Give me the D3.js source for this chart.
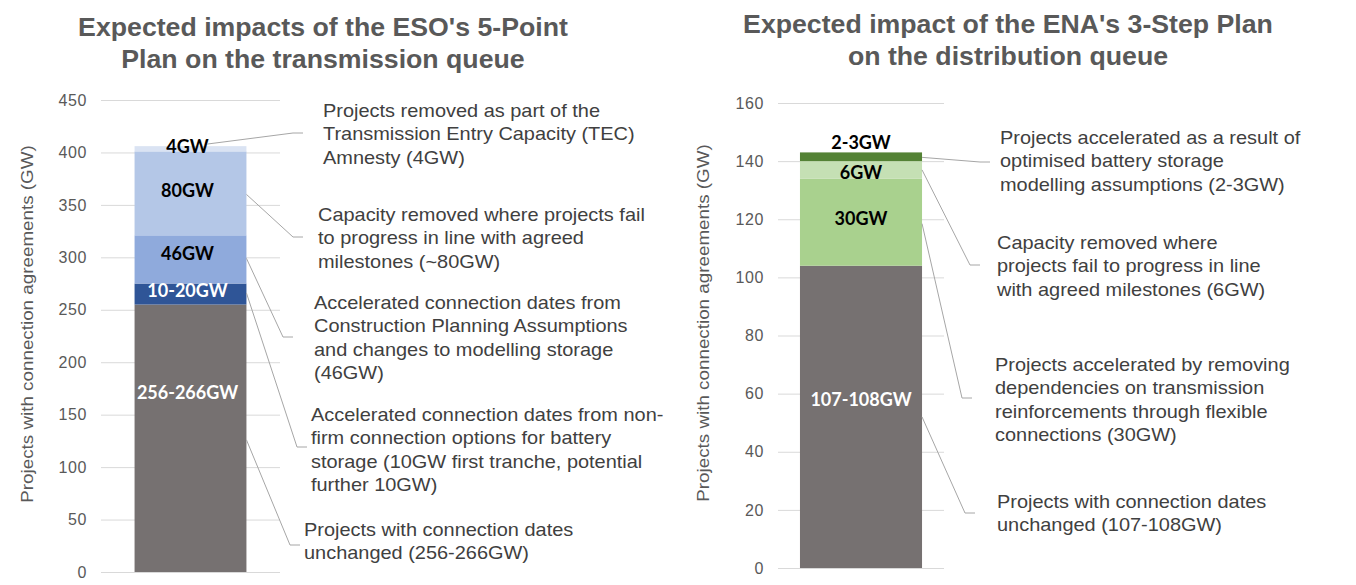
<!DOCTYPE html>
<html>
<head>
<meta charset="utf-8">
<script src="https://cdn.jsdelivr.net/npm/d3@7"></script>
<style>
  body { margin: 0; background: #fff; }
  svg { display: block; }
</style>
</head>
<body>
<div id="chart"></div>
<script>
// Transmission queue (GW), bottom to top
const tSegments = ['Unchanged', 'Non-firm battery', 'CPA & storage', 'Milestones', 'TEC Amnesty'];
const tValues = [255, 20, 46, 80, 5];
const tLabels = ['256-266GW', '10-20GW', '46GW', '80GW', '4GW'];
const tTicks = [0, 50, 100, 150, 200, 250, 300, 350, 400, 450];
const tNotes = [
    ['Projects with connection dates', 'unchanged (256-266GW)'],
    ['Accelerated connection dates from non-', 'firm connection options for battery', 'storage (10GW first tranche, potential', 'further 10GW)'],
    ['Accelerated connection dates from', 'Construction Planning Assumptions', 'and changes to modelling storage', '(46GW)'],
    ['Capacity removed where projects fail', 'to progress in line with agreed', 'milestones (~80GW)'],
    ['Projects removed as part of the', 'Transmission Entry Capacity (TEC)', 'Amnesty (4GW)']
];

// Distribution queue (GW), bottom to top
const dSegments = ['Unchanged', 'Flexible connections', 'Milestones', 'Battery modelling'];
const dValues = [104, 30, 6, 3];
const dLabels = ['107-108GW', '30GW', '6GW', '2-3GW'];
const dTicks = [0, 20, 40, 60, 80, 100, 120, 140, 160];
const dNotes = [
    ['Projects with connection dates', 'unchanged (107-108GW)'],
    ['Projects accelerated by removing', 'dependencies on transmission', 'reinforcements through flexible', 'connections (30GW)'],
    ['Capacity removed where', 'projects fail to progress in line', 'with agreed milestones (6GW)'],
    ['Projects accelerated as a result of', 'optimised battery storage', 'modelling assumptions (2-3GW)']
];

const width = 1356, height = 585;
const svg = d3.select('#chart').append('svg')
    .attr('width', width)
    .attr('height', height);

const lineGap = 23.4;
const stretch = 1.14; // body text in the original is set wide

function drawPanel(p) {
    const y = d3.scaleLinear().domain([0, p.max]).range([p.bottom, p.top]);
    const x = d3.scaleBand().domain(['q']).range([p.gridLeft, p.gridRight]).paddingInner(0).paddingOuter(p.pad);
    const g = svg.append('g');

    // gridlines
    g.append('g')
        .attr('transform', `translate(${p.gridLeft},0)`)
        .call(d3.axisLeft(y).tickValues(p.ticks).tickSize(-(p.gridRight - p.gridLeft)).tickFormat(''))
        .call(a => a.select('.domain').remove())
        .call(a => a.selectAll('line').attr('stroke', '#d9d9d9').attr('stroke-width', 1));

    // tick labels
    g.append('g')
        .attr('transform', `translate(${p.labelRight},0)`)
        .call(d3.axisLeft(y).tickValues(p.ticks).tickSize(0).tickPadding(0))
        .call(a => a.select('.domain').remove())
        .call(a => a.selectAll('text')
            .attr('fill', '#595959')
            .attr('font-family', 'Liberation Sans, Arial, sans-serif')
            .attr('letter-spacing', 0.6)
            .attr('font-size', 16));

    // axis title
    g.append('text')
        .attr('transform', `translate(${p.axisTitleX},${p.axisTitleY}) rotate(-90) scale(${stretch},1)`)
        .attr('text-anchor', 'middle')
        .attr('dominant-baseline', 'middle')
        .attr('fill', '#595959')
        .attr('font-family', 'Liberation Sans, Arial, sans-serif')
        .attr('font-size', 16.5)
        .text('Projects with connection agreements (GW)');

    // chart title
    p.title.forEach((t, i) => {
        g.append('text')
            .attr('x', p.titleX)
            .attr('y', p.titleY + i * 32)
            .attr('text-anchor', 'middle')
            .attr('dominant-baseline', 'middle')
            .attr('fill', '#595959')
            .attr('font-family', 'Liberation Sans, Arial, sans-serif')
            .attr('font-weight', 'bold')
            .attr('font-size', 26.7)
            .text(t);
    });

    // stacked segments
    const rows = p.values.map((v, i) => ({
        name: p.segments[i],
        v0: d3.sum(p.values.slice(0, i)),
        v1: d3.sum(p.values.slice(0, i + 1)),
        label: p.labels[i],
        note: p.notes[i],
        color: p.colors[i],
        lay: p.layout[i]
    }));

    const bx = x('q'), bw = x.bandwidth();

    g.selectAll('rect.seg').data(rows).join('rect')
        .attr('class', 'seg')
        .attr('x', bx)
        .attr('width', bw)
        .attr('y', d => y(d.v1))
        .attr('height', d => y(d.v0) - y(d.v1))
        .attr('fill', d => d.color);

    // segment labels
    g.selectAll('text.seg').data(rows).join('text')
        .attr('class', 'seg')
        .attr('x', bx + bw / 2 + p.labelDx)
        .attr('y', d => y(d.lay.labelAt))
        .attr('text-anchor', 'middle')
        .attr('dominant-baseline', 'central')
        .attr('fill', d => d.lay.white ? '#fff' : '#000')
        .attr('font-family', 'Lato, "Open Sans", sans-serif')
        .attr('font-weight', 'bold')
        .attr('font-size', 18)
        .text(d => d.label);

    // leader lines
    g.selectAll('polyline.lead').data(rows).join('polyline')
        .attr('class', 'lead')
        .attr('fill', 'none')
        .attr('stroke', '#a6a6a6')
        .attr('stroke-width', 1)
        .attr('points', d => {
            const sx = bx + bw * d.lay.fx, sy = y(d.lay.anchor);
            return [[sx, sy], d.lay.elbow, [d.lay.elbow[0] + 10, d.lay.elbow[1]]].map(q => q.join(',')).join(' ');
        });

    // callout texts
    rows.forEach(d => {
        d.note.forEach((line, i) => {
            g.append('text')
                .attr('transform', `translate(${d.lay.tx},${d.lay.ty + i * lineGap}) scale(${stretch},1)`)
                .attr('dominant-baseline', 'central')
                .attr('fill', '#404040')
                .attr('font-family', 'Liberation Sans, Arial, sans-serif')
                .attr('font-size', 17.5)
                .text(line);
        });
    });
}

drawPanel({
    max: 450, top: 100, bottom: 572, ticks: tTicks,
    gridLeft: 101, gridRight: 280, pad: 0.3, labelRight: 87, labelDx: -3,
    axisTitleX: 29, axisTitleY: 324,
    title: ['Expected impacts of the ESO\'s 5-Point', 'Plan on the transmission queue'], titleX: 323, titleY: 29,
    segments: tSegments, values: tValues, labels: tLabels, notes: tNotes,
    colors: ['#767171', '#2f5597', '#8faadc', '#b4c7e7', '#dae3f3'],
    layout: [
        { labelAt: 171.5, white: true, fx: 1, anchor: 126, elbow: [290, 545], tx: 304, ty: 530 },
        { labelAt: 269, white: true, fx: 1, anchor: 266, elbow: [297, 447], tx: 311, ty: 415 },
        { labelAt: 304, fx: 1, anchor: 299, elbow: [283, 337], tx: 314, ty: 303 },
        { labelAt: 364, fx: 1, anchor: 360, elbow: [293, 237], tx: 318, ty: 215 },
        { labelAt: 406, fx: 0.65, anchor: 408, elbow: [293, 133], tx: 323, ty: 111 }
    ]
});

drawPanel({
    max: 160, top: 103, bottom: 568, ticks: dTicks,
    gridLeft: 778, gridRight: 944, pad: 0.18, labelRight: 764, labelDx: 0,
    axisTitleX: 705, axisTitleY: 323,
    title: ['Expected impact of the ENA\'s 3-Step Plan', 'on the distribution queue'], titleX: 1008, titleY: 26,
    segments: dSegments, values: dValues, labels: dLabels, notes: dNotes,
    colors: ['#767171', '#a9d18e', '#c5e0b4', '#548235'],
    layout: [
        { labelAt: 58, white: true, fx: 1, anchor: 52, elbow: [965, 513], tx: 997, ty: 502 },
        { labelAt: 120.3, fx: 1, anchor: 118.5, elbow: [962, 398], tx: 995, ty: 365 },
        { labelAt: 136.2, fx: 1, anchor: 137, elbow: [970, 265], tx: 997, ty: 243 },
        { labelAt: 146.5, fx: 1, anchor: 141.3, elbow: [980, 162], tx: 1000, ty: 138 }
    ]
});
</script>
</body>
</html>
